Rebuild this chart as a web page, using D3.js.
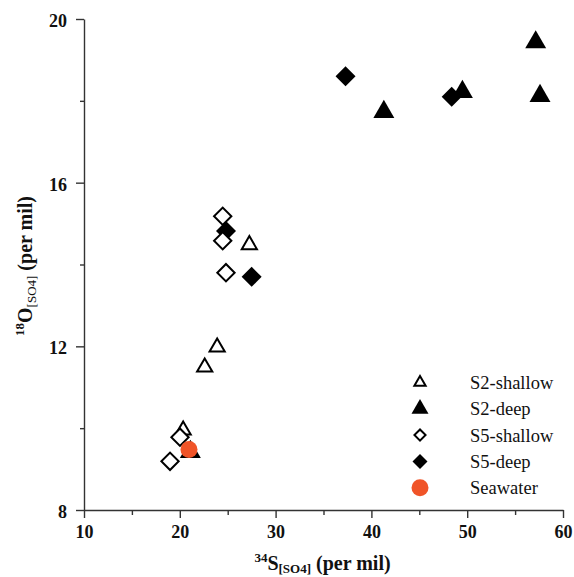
<!DOCTYPE html>
<html><head><meta charset="utf-8">
<script src="https://cdn.jsdelivr.net/npm/d3@7"></script>
<style>body{margin:0;background:#fff}svg{display:block}
text{font-family:"Liberation Serif","Tinos","Times New Roman","DejaVu Serif",serif;}</style>
</head><body>
<svg id="c" width="574" height="577"></svg>
<script>
// ---- data ----
const s2Shallow = [[20.35, 9.95], [22.6, 11.49], [23.9, 11.98], [27.26, 14.48]];
const s2Deep = [[21.1, 9.42], [41.3, 17.73], [49.5, 18.22], [57.15, 19.43], [57.6, 18.12]];
const s5Deep = [[24.82, 14.82], [27.5, 13.7], [37.3, 18.6], [48.38, 18.1]];
const s5Shallow = [[18.98, 9.19], [20.02, 9.78], [24.48, 14.58], [24.82, 13.8], [24.48, 15.18]];
const seawater = [[20.96, 9.48]];
const xTicks = [10, 20, 30, 40, 50, 60];
const xMinor = [15, 25, 35, 45, 55];
const yTicks = [8, 12, 16, 20];
const yMinor = [10, 14, 18];
const legendLabels = ["S2-shallow", "S2-deep", "S5-shallow", "S5-deep", "Seawater"];

const svg = d3.select("#c");
const x = d3.scaleLinear().domain([10, 60]).range([84, 563]);
const y = d3.scaleLinear().domain([8, 20]).range([510, 19]);
const axisColor = "#333";

// axes
const gx = svg.append("g").attr("transform", "translate(0,510)")
  .call(d3.axisBottom(x).tickValues(xTicks).tickSize(8).tickSizeOuter(0).tickPadding(7));
svg.append("g").attr("transform", "translate(0,510)")
  .call(d3.axisBottom(x).tickValues(xMinor).tickSize(5).tickFormat("")).select(".domain").remove();
const gy = svg.append("g").attr("transform", "translate(84,0)")
  .call(d3.axisLeft(y).tickValues(yTicks).tickSize(8).tickSizeOuter(0).tickPadding(9));
svg.append("g").attr("transform", "translate(84,0)")
  .call(d3.axisLeft(y).tickValues(yMinor).tickSize(4).tickFormat("")).select(".domain").remove();
svg.selectAll(".domain, .tick line").attr("stroke", axisColor).attr("stroke-width", 1.4);
svg.selectAll("g").attr("font-family", null);
svg.selectAll(".tick text").attr("font-weight", "bold")
  .attr("font-size", 18).attr("fill", "#111");
gy.selectAll(".tick text").attr("dy", "0.42em");

// axis titles
const xt = svg.append("text").attr("x", 322.5).attr("y", 570).attr("text-anchor", "middle")
  .attr("font-weight", "bold").attr("font-size", 20).attr("fill", "#111");
xt.append("tspan").attr("font-size", 13).attr("dy", -8).text("34");
xt.append("tspan").attr("dy", 8).text("S");
xt.append("tspan").attr("font-size", 13).attr("dy", 3).text("[SO4]");
xt.append("tspan").attr("dy", -3).text(" (per mil)");

const yt = svg.append("text").attr("transform", "translate(32,266) rotate(-90)").attr("text-anchor", "middle")
  .attr("font-weight", "bold").attr("font-size", 20).attr("fill", "#111");
yt.append("tspan").attr("font-size", 13).attr("dy", -8).text("18");
yt.append("tspan").attr("dy", 8).text("O");
yt.append("tspan").attr("font-size", 13).attr("dy", 4).attr("font-weight", "normal").text("[SO4]");
yt.append("tspan").attr("dy", -4).text(" (per mil)");

// markers
const orange = "#F05428";
const styles = {
  s2Shallow: {type: d3.symbolTriangle, size: 100, fill: "#fff", stroke: "#000", sw: 2, rot: 0},
  s2Deep: {type: d3.symbolTriangle, size: 190, fill: "#000", stroke: "none", sw: 0, rot: 0},
  s5Shallow: {type: d3.symbolSquare, size: 150, fill: "#fff", stroke: "#000", sw: 2, rot: 45},
  s5Deep: {type: d3.symbolSquare, size: 200, fill: "#000", stroke: "none", sw: 0, rot: 45},
  seawater: {type: d3.symbolCircle, size: 227, fill: orange, stroke: "none", sw: 0, rot: 0}
};
function draw(data, st) {
  svg.append("g").selectAll("path").data(data).join("path")
    .attr("d", d3.symbol().type(st.type).size(st.size))
    .attr("transform", d => `translate(${x(d[0])},${y(d[1])}) rotate(${st.rot})`)
    .attr("fill", st.fill).attr("stroke", st.stroke).attr("stroke-width", st.sw);
}
draw(s2Shallow, styles.s2Shallow);
draw(s2Deep, styles.s2Deep);
draw(s5Deep, styles.s5Deep);
draw(s5Shallow, styles.s5Shallow);
draw(seawater, styles.seawater);

// legend
const legStyles = [
  {type: d3.symbolTriangle, size: 55, fill: "#fff", stroke: "#000", sw: 2, rot: 0},
  {type: d3.symbolTriangle, size: 125, fill: "#000", stroke: "none", sw: 0, rot: 0},
  {type: d3.symbolSquare, size: 62, fill: "#fff", stroke: "#000", sw: 2, rot: 45},
  {type: d3.symbolSquare, size: 112, fill: "#000", stroke: "none", sw: 0, rot: 45},
  {type: d3.symbolCircle, size: 227, fill: orange, stroke: "none", sw: 0, rot: 0}
];
const leg = svg.append("g");
legendLabels.forEach((lab, i) => {
  const yy = 382.5 + i * 26.3;
  const st = legStyles[i];
  leg.append("path").attr("d", d3.symbol().type(st.type).size(st.size))
    .attr("transform", `translate(420,${yy}) rotate(${st.rot})`)
    .attr("fill", st.fill).attr("stroke", st.stroke).attr("stroke-width", st.sw);
  leg.append("text").attr("x", 470).attr("y", yy + 6.5)
    .attr("font-size", 18.5).attr("fill", "#111").text(lab);
});
</script>
</body></html>
